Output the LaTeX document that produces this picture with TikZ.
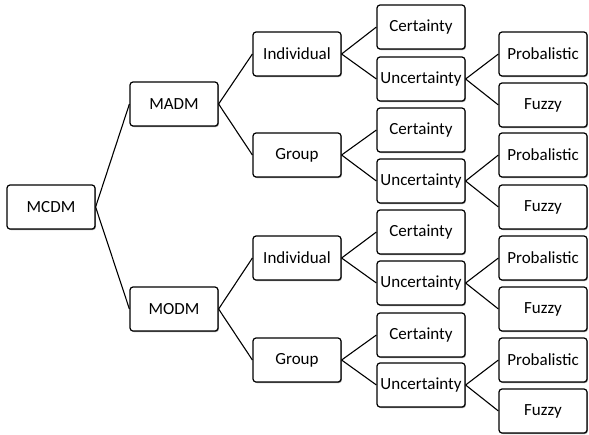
\documentclass[tikz,border=0pt]{standalone}
\usepackage{fontspec}
\setmainfont{Carlito}
\usetikzlibrary{shadows}
\begin{document}
\begin{tikzpicture}[x=1pt,y=-1pt,
  box/.style={draw=black, fill=white, rounded corners=3pt, line width=1.2pt,
    minimum width=88pt, minimum height=44pt, inner sep=0pt,
    font=\fontsize{17}{20}\selectfont,
    drop shadow={shadow xshift=0.9pt, shadow yshift=-1pt, fill=black, opacity=0.45}},
  link/.style={draw=black, line width=1.1pt}]
\useasboundingbox (0,0) rectangle (589,434);

% root and first level
\node[box] (mcdm) at (51,207) {MCDM};
\node[box] (madm) at (174,104) {MADM};
\node[box] (modm) at (174,309) {MODM};

% second level
\node[box] (ind1) at (297,54) {Individual};
\node[box] (grp1) at (297,155) {Group};
\node[box] (ind2) at (297,258) {Individual};
\node[box] (grp2) at (297,360) {Group};

% third level
\node[box] (cer1) at (421,27) {Certainty};
\node[box] (unc1) at (421,79) {Uncertainty};
\node[box] (cer2) at (421,130) {Certainty};
\node[box] (unc2) at (421,181) {Uncertainty};
\node[box] (cer3) at (421,232) {Certainty};
\node[box] (unc3) at (421,283) {Uncertainty};
\node[box] (cer4) at (421,335) {Certainty};
\node[box] (unc4) at (421,385) {Uncertainty};

% leaves
\node[box] (pro1) at (543,54) {Probalistic};
\node[box] (fuz1) at (543,105) {Fuzzy};
\node[box] (pro2) at (543,155) {Probalistic};
\node[box] (fuz2) at (543,207) {Fuzzy};
\node[box] (pro3) at (543,258) {Probalistic};
\node[box] (fuz3) at (543,309) {Fuzzy};
\node[box] (pro4) at (543,360) {Probalistic};
\node[box] (fuz4) at (543,411) {Fuzzy};

% connectors
\foreach \p/\c in {mcdm/madm, mcdm/modm,
  madm/ind1, madm/grp1, modm/ind2, modm/grp2,
  ind1/cer1, ind1/unc1, grp1/cer2, grp1/unc2,
  ind2/cer3, ind2/unc3, grp2/cer4, grp2/unc4,
  unc1/pro1, unc1/fuz1, unc2/pro2, unc2/fuz2,
  unc3/pro3, unc3/fuz3, unc4/pro4, unc4/fuz4}
  \draw[link] (\p.east) -- (\c.west);
\end{tikzpicture}
\end{document}
